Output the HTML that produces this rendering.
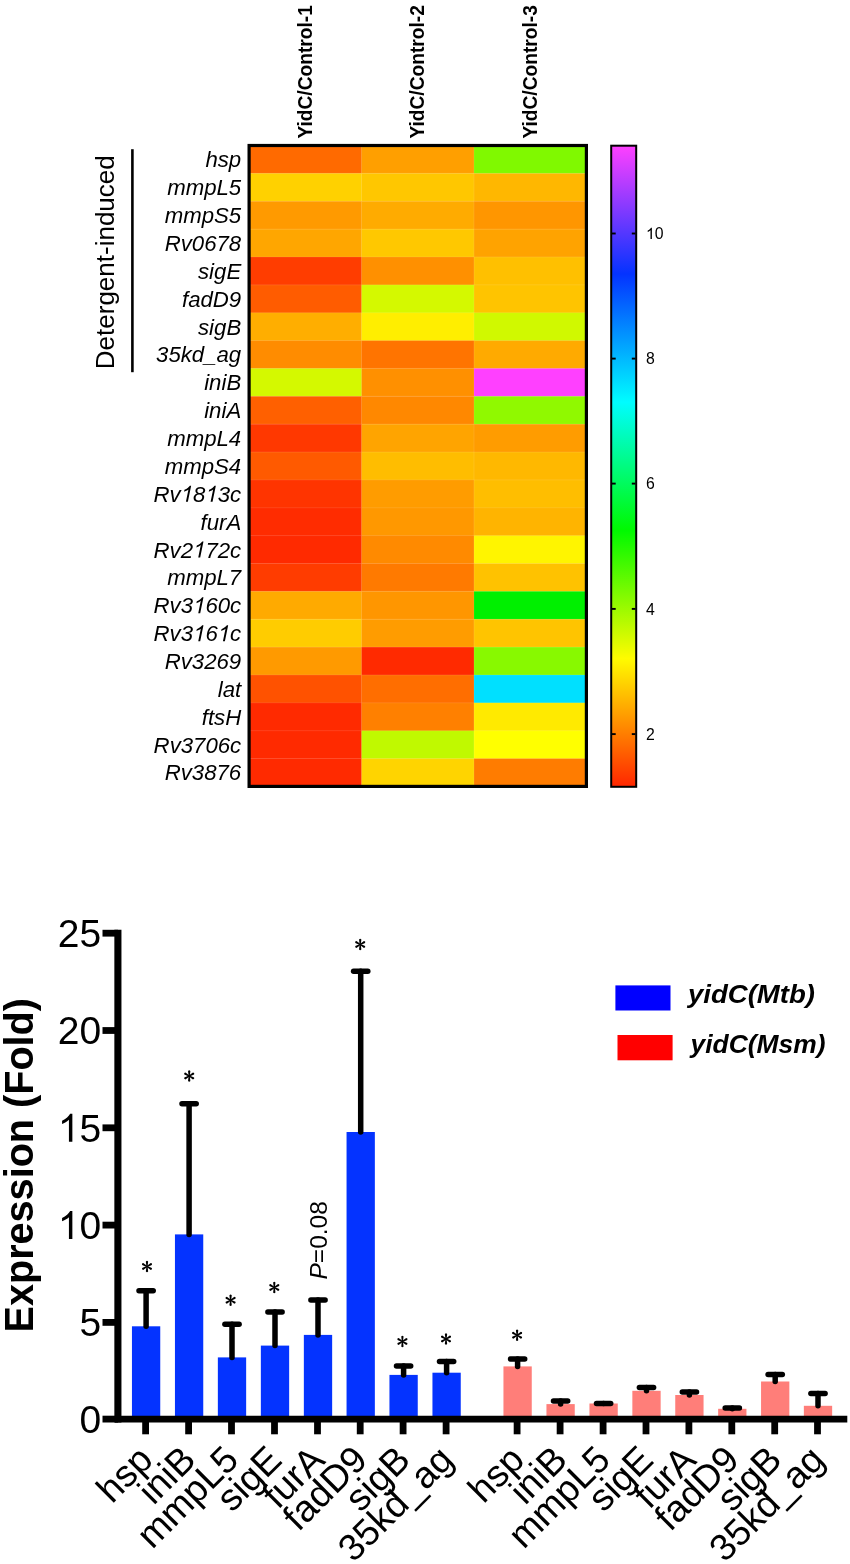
<!DOCTYPE html>
<html><head><meta charset="utf-8"><title>Figure</title><style>html,body{margin:0;padding:0;background:#fff}svg{display:block;will-change:transform}</style></head><body>
<svg width="850" height="1564" viewBox="0 0 850 1564">
<defs><linearGradient id="cb" x1="0" y1="0" x2="0" y2="1"><stop offset="0" stop-color="#ff40ff"/><stop offset="0.2" stop-color="#0433ff"/><stop offset="0.4" stop-color="#00fdff"/><stop offset="0.6" stop-color="#00f900"/><stop offset="0.8" stop-color="#fffb00"/><stop offset="1" stop-color="#ff2600"/></linearGradient><path id="pt" d="M-0.6,0 L-1.15,-5.0 Q0,-6.5 1.15,-5.0 L0.6,0 Z"/><g id="ast" fill="#000"><use href="#pt" transform="rotate(0)"/><use href="#pt" transform="rotate(60)"/><use href="#pt" transform="rotate(120)"/><use href="#pt" transform="rotate(180)"/><use href="#pt" transform="rotate(240)"/><use href="#pt" transform="rotate(300)"/></g></defs>
<rect width="850" height="1564" fill="#fff"/>
<rect x="249.10" y="145.50" width="112.73" height="28.17" fill="#ff6a00"/>
<rect x="361.53" y="145.50" width="112.73" height="28.17" fill="#ff9f00"/>
<rect x="473.97" y="145.50" width="112.73" height="28.17" fill="#80f900"/>
<rect x="249.10" y="173.37" width="112.73" height="28.17" fill="#ffd100"/>
<rect x="361.53" y="173.37" width="112.73" height="28.17" fill="#ffc700"/>
<rect x="473.97" y="173.37" width="112.73" height="28.17" fill="#ffb700"/>
<rect x="249.10" y="201.23" width="112.73" height="28.17" fill="#ff9a00"/>
<rect x="361.53" y="201.23" width="112.73" height="28.17" fill="#ffab00"/>
<rect x="473.97" y="201.23" width="112.73" height="28.17" fill="#ff9600"/>
<rect x="249.10" y="229.10" width="112.73" height="28.17" fill="#ffa600"/>
<rect x="361.53" y="229.10" width="112.73" height="28.17" fill="#ffc800"/>
<rect x="473.97" y="229.10" width="112.73" height="28.17" fill="#ffa300"/>
<rect x="249.10" y="256.96" width="112.73" height="28.17" fill="#ff3d00"/>
<rect x="361.53" y="256.96" width="112.73" height="28.17" fill="#ff9000"/>
<rect x="473.97" y="256.96" width="112.73" height="28.17" fill="#ffc000"/>
<rect x="249.10" y="284.83" width="112.73" height="28.17" fill="#ff5c00"/>
<rect x="361.53" y="284.83" width="112.73" height="28.17" fill="#d4f900"/>
<rect x="473.97" y="284.83" width="112.73" height="28.17" fill="#ffc400"/>
<rect x="249.10" y="312.69" width="112.73" height="28.17" fill="#ffae00"/>
<rect x="361.53" y="312.69" width="112.73" height="28.17" fill="#ffee00"/>
<rect x="473.97" y="312.69" width="112.73" height="28.17" fill="#d0f900"/>
<rect x="249.10" y="340.56" width="112.73" height="28.17" fill="#ff8c00"/>
<rect x="361.53" y="340.56" width="112.73" height="28.17" fill="#ff7400"/>
<rect x="473.97" y="340.56" width="112.73" height="28.17" fill="#ffaa00"/>
<rect x="249.10" y="368.42" width="112.73" height="28.17" fill="#d4f900"/>
<rect x="361.53" y="368.42" width="112.73" height="28.17" fill="#ff9000"/>
<rect x="473.97" y="368.42" width="112.73" height="28.17" fill="#ff40ff"/>
<rect x="249.10" y="396.29" width="112.73" height="28.17" fill="#ff6000"/>
<rect x="361.53" y="396.29" width="112.73" height="28.17" fill="#ff8800"/>
<rect x="473.97" y="396.29" width="112.73" height="28.17" fill="#90f900"/>
<rect x="249.10" y="424.15" width="112.73" height="28.17" fill="#ff3800"/>
<rect x="361.53" y="424.15" width="112.73" height="28.17" fill="#ffa400"/>
<rect x="473.97" y="424.15" width="112.73" height="28.17" fill="#ff9c00"/>
<rect x="249.10" y="452.02" width="112.73" height="28.17" fill="#ff5a00"/>
<rect x="361.53" y="452.02" width="112.73" height="28.17" fill="#ffbd00"/>
<rect x="473.97" y="452.02" width="112.73" height="28.17" fill="#ffb800"/>
<rect x="249.10" y="479.88" width="112.73" height="28.17" fill="#ff3400"/>
<rect x="361.53" y="479.88" width="112.73" height="28.17" fill="#ff9c00"/>
<rect x="473.97" y="479.88" width="112.73" height="28.17" fill="#ffbe00"/>
<rect x="249.10" y="507.75" width="112.73" height="28.17" fill="#ff2c00"/>
<rect x="361.53" y="507.75" width="112.73" height="28.17" fill="#ff9800"/>
<rect x="473.97" y="507.75" width="112.73" height="28.17" fill="#ffb400"/>
<rect x="249.10" y="535.61" width="112.73" height="28.17" fill="#ff2a00"/>
<rect x="361.53" y="535.61" width="112.73" height="28.17" fill="#ff8a00"/>
<rect x="473.97" y="535.61" width="112.73" height="28.17" fill="#fff500"/>
<rect x="249.10" y="563.48" width="112.73" height="28.17" fill="#ff3c00"/>
<rect x="361.53" y="563.48" width="112.73" height="28.17" fill="#ff7a00"/>
<rect x="473.97" y="563.48" width="112.73" height="28.17" fill="#ffc200"/>
<rect x="249.10" y="591.34" width="112.73" height="28.17" fill="#ffaa00"/>
<rect x="361.53" y="591.34" width="112.73" height="28.17" fill="#ff9600"/>
<rect x="473.97" y="591.34" width="112.73" height="28.17" fill="#00f000"/>
<rect x="249.10" y="619.21" width="112.73" height="28.17" fill="#ffcc00"/>
<rect x="361.53" y="619.21" width="112.73" height="28.17" fill="#ff9c00"/>
<rect x="473.97" y="619.21" width="112.73" height="28.17" fill="#ffc400"/>
<rect x="249.10" y="647.07" width="112.73" height="28.17" fill="#ff9a00"/>
<rect x="361.53" y="647.07" width="112.73" height="28.17" fill="#ff2a00"/>
<rect x="473.97" y="647.07" width="112.73" height="28.17" fill="#88f900"/>
<rect x="249.10" y="674.94" width="112.73" height="28.17" fill="#ff5200"/>
<rect x="361.53" y="674.94" width="112.73" height="28.17" fill="#ff6e00"/>
<rect x="473.97" y="674.94" width="112.73" height="28.17" fill="#00e0ff"/>
<rect x="249.10" y="702.80" width="112.73" height="28.17" fill="#ff2a00"/>
<rect x="361.53" y="702.80" width="112.73" height="28.17" fill="#ff8000"/>
<rect x="473.97" y="702.80" width="112.73" height="28.17" fill="#ffea00"/>
<rect x="249.10" y="730.67" width="112.73" height="28.17" fill="#ff2a00"/>
<rect x="361.53" y="730.67" width="112.73" height="28.17" fill="#c0f900"/>
<rect x="473.97" y="730.67" width="112.73" height="28.17" fill="#ffff00"/>
<rect x="249.10" y="758.53" width="112.73" height="28.17" fill="#ff2a00"/>
<rect x="361.53" y="758.53" width="112.73" height="28.17" fill="#ffd400"/>
<rect x="473.97" y="758.53" width="112.73" height="28.17" fill="#ff7c00"/>
<line x1="249.1" y1="173.37" x2="586.4" y2="173.37" stroke="#fff" stroke-opacity="0.13" stroke-width="0.8"/>
<line x1="249.1" y1="201.23" x2="586.4" y2="201.23" stroke="#fff" stroke-opacity="0.13" stroke-width="0.8"/>
<line x1="249.1" y1="229.10" x2="586.4" y2="229.10" stroke="#fff" stroke-opacity="0.13" stroke-width="0.8"/>
<line x1="249.1" y1="256.96" x2="586.4" y2="256.96" stroke="#fff" stroke-opacity="0.13" stroke-width="0.8"/>
<line x1="249.1" y1="284.83" x2="586.4" y2="284.83" stroke="#fff" stroke-opacity="0.13" stroke-width="0.8"/>
<line x1="249.1" y1="312.69" x2="586.4" y2="312.69" stroke="#fff" stroke-opacity="0.13" stroke-width="0.8"/>
<line x1="249.1" y1="340.56" x2="586.4" y2="340.56" stroke="#fff" stroke-opacity="0.13" stroke-width="0.8"/>
<line x1="249.1" y1="368.42" x2="586.4" y2="368.42" stroke="#fff" stroke-opacity="0.13" stroke-width="0.8"/>
<line x1="249.1" y1="396.29" x2="586.4" y2="396.29" stroke="#fff" stroke-opacity="0.13" stroke-width="0.8"/>
<line x1="249.1" y1="424.15" x2="586.4" y2="424.15" stroke="#fff" stroke-opacity="0.13" stroke-width="0.8"/>
<line x1="249.1" y1="452.02" x2="586.4" y2="452.02" stroke="#fff" stroke-opacity="0.13" stroke-width="0.8"/>
<line x1="249.1" y1="479.88" x2="586.4" y2="479.88" stroke="#fff" stroke-opacity="0.13" stroke-width="0.8"/>
<line x1="249.1" y1="507.75" x2="586.4" y2="507.75" stroke="#fff" stroke-opacity="0.13" stroke-width="0.8"/>
<line x1="249.1" y1="535.61" x2="586.4" y2="535.61" stroke="#fff" stroke-opacity="0.13" stroke-width="0.8"/>
<line x1="249.1" y1="563.48" x2="586.4" y2="563.48" stroke="#fff" stroke-opacity="0.13" stroke-width="0.8"/>
<line x1="249.1" y1="591.34" x2="586.4" y2="591.34" stroke="#fff" stroke-opacity="0.13" stroke-width="0.8"/>
<line x1="249.1" y1="619.21" x2="586.4" y2="619.21" stroke="#fff" stroke-opacity="0.13" stroke-width="0.8"/>
<line x1="249.1" y1="647.07" x2="586.4" y2="647.07" stroke="#fff" stroke-opacity="0.13" stroke-width="0.8"/>
<line x1="249.1" y1="674.94" x2="586.4" y2="674.94" stroke="#fff" stroke-opacity="0.13" stroke-width="0.8"/>
<line x1="249.1" y1="702.80" x2="586.4" y2="702.80" stroke="#fff" stroke-opacity="0.13" stroke-width="0.8"/>
<line x1="249.1" y1="730.67" x2="586.4" y2="730.67" stroke="#fff" stroke-opacity="0.13" stroke-width="0.8"/>
<line x1="249.1" y1="758.53" x2="586.4" y2="758.53" stroke="#fff" stroke-opacity="0.13" stroke-width="0.8"/>
<line x1="361.53" y1="145.5" x2="361.53" y2="786.4" stroke="#fff" stroke-opacity="0.13" stroke-width="0.8"/>
<line x1="473.97" y1="145.5" x2="473.97" y2="786.4" stroke="#fff" stroke-opacity="0.13" stroke-width="0.8"/>
<rect x="249.1" y="145.5" width="337.30" height="640.90" fill="none" stroke="#000" stroke-width="3.2"/>
<text x="241.2" y="167.43" font-family="Liberation Sans, sans-serif" font-size="22.2" font-style="italic" text-anchor="end">hsp</text>
<text x="241.2" y="195.30" font-family="Liberation Sans, sans-serif" font-size="22.2" font-style="italic" text-anchor="end">mmpL5</text>
<text x="241.2" y="223.16" font-family="Liberation Sans, sans-serif" font-size="22.2" font-style="italic" text-anchor="end">mmpS5</text>
<text x="241.2" y="251.03" font-family="Liberation Sans, sans-serif" font-size="22.2" font-style="italic" text-anchor="end">Rv0678</text>
<text x="241.2" y="278.89" font-family="Liberation Sans, sans-serif" font-size="22.2" font-style="italic" text-anchor="end">sigE</text>
<text x="241.2" y="306.76" font-family="Liberation Sans, sans-serif" font-size="22.2" font-style="italic" text-anchor="end">fadD9</text>
<text x="241.2" y="334.62" font-family="Liberation Sans, sans-serif" font-size="22.2" font-style="italic" text-anchor="end">sigB</text>
<text x="241.2" y="362.49" font-family="Liberation Sans, sans-serif" font-size="22.2" font-style="italic" text-anchor="end">35kd_ag</text>
<text x="241.2" y="390.35" font-family="Liberation Sans, sans-serif" font-size="22.2" font-style="italic" text-anchor="end">iniB</text>
<text x="241.2" y="418.22" font-family="Liberation Sans, sans-serif" font-size="22.2" font-style="italic" text-anchor="end">iniA</text>
<text x="241.2" y="446.08" font-family="Liberation Sans, sans-serif" font-size="22.2" font-style="italic" text-anchor="end">mmpL4</text>
<text x="241.2" y="473.95" font-family="Liberation Sans, sans-serif" font-size="22.2" font-style="italic" text-anchor="end">mmpS4</text>
<path transform="translate(179.59,501.82) skewX(-11.6) scale(0.01084,-0.01084)" d="M763 0H583V1147Q518 1085 412.5 1023Q307 961 223 930V1104Q374 1175 487 1276Q600 1377 647 1472H763Z"/><path transform="translate(204.28,501.82) skewX(-11.6) scale(0.01084,-0.01084)" d="M763 0H583V1147Q518 1085 412.5 1023Q307 961 223 930V1104Q374 1175 487 1276Q600 1377 647 1472H763Z"/><text x="180.73" y="501.82" font-family="Liberation Sans, sans-serif" font-size="22.2" font-style="italic" text-anchor="end">Rv</text><text x="193.07" y="501.82" font-family="Liberation Sans, sans-serif" font-size="22.2" font-style="italic" style="font-kerning:none">8</text><text x="217.76" y="501.82" font-family="Liberation Sans, sans-serif" font-size="22.2" font-style="italic" style="font-kerning:none">3c</text>
<text x="241.2" y="529.68" font-family="Liberation Sans, sans-serif" font-size="22.2" font-style="italic" text-anchor="end">furA</text>
<path transform="translate(191.93,557.55) skewX(-11.6) scale(0.01084,-0.01084)" d="M763 0H583V1147Q518 1085 412.5 1023Q307 961 223 930V1104Q374 1175 487 1276Q600 1377 647 1472H763Z"/><text x="193.07" y="557.55" font-family="Liberation Sans, sans-serif" font-size="22.2" font-style="italic" text-anchor="end">Rv2</text><text x="205.41" y="557.55" font-family="Liberation Sans, sans-serif" font-size="22.2" font-style="italic" style="font-kerning:none">72c</text>
<text x="241.2" y="585.41" font-family="Liberation Sans, sans-serif" font-size="22.2" font-style="italic" text-anchor="end">mmpL7</text>
<path transform="translate(191.93,613.28) skewX(-11.6) scale(0.01084,-0.01084)" d="M763 0H583V1147Q518 1085 412.5 1023Q307 961 223 930V1104Q374 1175 487 1276Q600 1377 647 1472H763Z"/><text x="193.07" y="613.28" font-family="Liberation Sans, sans-serif" font-size="22.2" font-style="italic" text-anchor="end">Rv3</text><text x="205.41" y="613.28" font-family="Liberation Sans, sans-serif" font-size="22.2" font-style="italic" style="font-kerning:none">60c</text>
<path transform="translate(191.93,641.14) skewX(-11.6) scale(0.01084,-0.01084)" d="M763 0H583V1147Q518 1085 412.5 1023Q307 961 223 930V1104Q374 1175 487 1276Q600 1377 647 1472H763Z"/><path transform="translate(216.62,641.14) skewX(-11.6) scale(0.01084,-0.01084)" d="M763 0H583V1147Q518 1085 412.5 1023Q307 961 223 930V1104Q374 1175 487 1276Q600 1377 647 1472H763Z"/><text x="193.07" y="641.14" font-family="Liberation Sans, sans-serif" font-size="22.2" font-style="italic" text-anchor="end">Rv3</text><text x="205.41" y="641.14" font-family="Liberation Sans, sans-serif" font-size="22.2" font-style="italic" style="font-kerning:none">6</text><text x="230.10" y="641.14" font-family="Liberation Sans, sans-serif" font-size="22.2" font-style="italic" style="font-kerning:none">c</text>
<text x="241.2" y="669.01" font-family="Liberation Sans, sans-serif" font-size="22.2" font-style="italic" text-anchor="end">Rv3269</text>
<text x="241.2" y="696.87" font-family="Liberation Sans, sans-serif" font-size="22.2" font-style="italic" text-anchor="end">lat</text>
<text x="241.2" y="724.74" font-family="Liberation Sans, sans-serif" font-size="22.2" font-style="italic" text-anchor="end">ftsH</text>
<text x="241.2" y="752.60" font-family="Liberation Sans, sans-serif" font-size="22.2" font-style="italic" text-anchor="end">Rv3706c</text>
<text x="241.2" y="780.47" font-family="Liberation Sans, sans-serif" font-size="22.2" font-style="italic" text-anchor="end">Rv3876</text>
<text transform="translate(312.00,138.6) rotate(-90)" font-family="Liberation Sans, sans-serif" font-size="20" font-weight="bold" textLength="133.4" lengthAdjust="spacingAndGlyphs">YidC/Control-1</text>
<text transform="translate(424.43,138.6) rotate(-90)" font-family="Liberation Sans, sans-serif" font-size="20" font-weight="bold" textLength="133.4" lengthAdjust="spacingAndGlyphs">YidC/Control-2</text>
<text transform="translate(536.87,138.6) rotate(-90)" font-family="Liberation Sans, sans-serif" font-size="20" font-weight="bold" textLength="133.4" lengthAdjust="spacingAndGlyphs">YidC/Control-3</text>
<text transform="translate(114.1,369.2) rotate(-90)" font-family="Liberation Sans, sans-serif" font-size="26">Detergent-induced</text>
<line x1="132.4" y1="149.2" x2="132.4" y2="372.2" stroke="#000" stroke-width="2.6"/>
<rect x="611.2" y="145.7" width="25" height="641.1" fill="url(#cb)" stroke="#000" stroke-width="2"/>
<line x1="612" y1="233.5" x2="615.7" y2="233.5" stroke="#000" stroke-width="1.9"/>
<line x1="631.8" y1="233.5" x2="635.5" y2="233.5" stroke="#000" stroke-width="1.9"/>
<path transform="translate(646.00,239.10) scale(0.00771,-0.00771)" d="M763 0H583V1147Q518 1085 412.5 1023Q307 961 223 930V1104Q374 1175 487 1276Q600 1377 647 1472H763Z"/><text x="654.78" y="239.10" font-family="Liberation Sans, sans-serif" font-size="15.8" style="font-kerning:none">0</text>
<line x1="612" y1="358.6" x2="615.7" y2="358.6" stroke="#000" stroke-width="1.9"/>
<line x1="631.8" y1="358.6" x2="635.5" y2="358.6" stroke="#000" stroke-width="1.9"/>
<text x="646" y="364.2" font-family="Liberation Sans, sans-serif" font-size="15.8">8</text>
<line x1="612" y1="483.6" x2="615.7" y2="483.6" stroke="#000" stroke-width="1.9"/>
<line x1="631.8" y1="483.6" x2="635.5" y2="483.6" stroke="#000" stroke-width="1.9"/>
<text x="646" y="489.2" font-family="Liberation Sans, sans-serif" font-size="15.8">6</text>
<line x1="612" y1="608.9" x2="615.7" y2="608.9" stroke="#000" stroke-width="1.9"/>
<line x1="631.8" y1="608.9" x2="635.5" y2="608.9" stroke="#000" stroke-width="1.9"/>
<text x="646" y="614.5" font-family="Liberation Sans, sans-serif" font-size="15.8">4</text>
<line x1="612" y1="734.1" x2="615.7" y2="734.1" stroke="#000" stroke-width="1.9"/>
<line x1="631.8" y1="734.1" x2="635.5" y2="734.1" stroke="#000" stroke-width="1.9"/>
<text x="646" y="739.7" font-family="Liberation Sans, sans-serif" font-size="15.8">2</text>
<rect x="131.95" y="1326.3" width="28.3" height="92.8" fill="#0433ff"/>
<rect x="174.95" y="1234.4" width="28.3" height="184.7" fill="#0433ff"/>
<rect x="217.85" y="1357.4" width="28.3" height="61.7" fill="#0433ff"/>
<rect x="260.85" y="1345.6" width="28.3" height="73.5" fill="#0433ff"/>
<rect x="303.85" y="1334.9" width="28.3" height="84.2" fill="#0433ff"/>
<rect x="346.55" y="1132.0" width="28.3" height="287.1" fill="#0433ff"/>
<rect x="389.45" y="1374.9" width="28.3" height="44.2" fill="#0433ff"/>
<rect x="432.45" y="1372.7" width="28.3" height="46.4" fill="#0433ff"/>
<rect x="503.45" y="1366.4" width="28.3" height="52.7" fill="#ff7e79"/>
<rect x="546.45" y="1404.1" width="28.3" height="15.0" fill="#ff7e79"/>
<rect x="589.45" y="1403.5" width="28.3" height="15.6" fill="#ff7e79"/>
<rect x="632.35" y="1390.8" width="28.3" height="28.3" fill="#ff7e79"/>
<rect x="675.25" y="1395.0" width="28.3" height="24.1" fill="#ff7e79"/>
<rect x="718.15" y="1408.8" width="28.3" height="10.3" fill="#ff7e79"/>
<rect x="761.05" y="1381.5" width="28.3" height="37.6" fill="#ff7e79"/>
<rect x="803.85" y="1405.8" width="28.3" height="13.3" fill="#ff7e79"/>
<g stroke="#000" stroke-width="5.5" stroke-linecap="round"><line x1="146.1" y1="1290.7" x2="146.1" y2="1326.3"/><line x1="139.0" y1="1290.7" x2="153.2" y2="1290.7"/></g>
<use href="#ast" x="147.0" y="1266.4"/>
<g stroke="#000" stroke-width="5.5" stroke-linecap="round"><line x1="189.1" y1="1103.7" x2="189.1" y2="1234.4"/><line x1="182.0" y1="1103.7" x2="196.2" y2="1103.7"/></g>
<use href="#ast" x="189.2" y="1075.9"/>
<g stroke="#000" stroke-width="5.5" stroke-linecap="round"><line x1="232.0" y1="1324.2" x2="232.0" y2="1357.4"/><line x1="224.9" y1="1324.2" x2="239.1" y2="1324.2"/></g>
<use href="#ast" x="230.6" y="1300.2"/>
<g stroke="#000" stroke-width="5.5" stroke-linecap="round"><line x1="275.0" y1="1311.9" x2="275.0" y2="1345.6"/><line x1="267.9" y1="1311.9" x2="282.1" y2="1311.9"/></g>
<use href="#ast" x="274.3" y="1287.5"/>
<g stroke="#000" stroke-width="5.5" stroke-linecap="round"><line x1="318.0" y1="1300.0" x2="318.0" y2="1334.9"/><line x1="310.9" y1="1300.0" x2="325.1" y2="1300.0"/></g>
<g stroke="#000" stroke-width="5.5" stroke-linecap="round"><line x1="360.7" y1="971.3" x2="360.7" y2="1132.0"/><line x1="353.59999999999997" y1="971.3" x2="367.8" y2="971.3"/></g>
<use href="#ast" x="360.2" y="944.6"/>
<g stroke="#000" stroke-width="5.5" stroke-linecap="round"><line x1="403.6" y1="1366.0" x2="403.6" y2="1374.9"/><line x1="396.5" y1="1366.0" x2="410.70000000000005" y2="1366.0"/></g>
<use href="#ast" x="402.4" y="1341.4"/>
<g stroke="#000" stroke-width="5.5" stroke-linecap="round"><line x1="446.6" y1="1361.5" x2="446.6" y2="1372.7"/><line x1="439.5" y1="1361.5" x2="453.70000000000005" y2="1361.5"/></g>
<use href="#ast" x="446.0" y="1339.1"/>
<g stroke="#000" stroke-width="5.5" stroke-linecap="round"><line x1="517.6" y1="1359.0" x2="517.6" y2="1366.4"/><line x1="510.5" y1="1359.0" x2="524.7" y2="1359.0"/></g>
<use href="#ast" x="517.1" y="1335.3"/>
<g stroke="#000" stroke-width="5.5" stroke-linecap="round"><line x1="560.6" y1="1400.9" x2="560.6" y2="1404.1"/><line x1="553.5" y1="1400.9" x2="567.7" y2="1400.9"/></g>
<g stroke="#000" stroke-width="5.5" stroke-linecap="round"><line x1="603.6" y1="1403.5" x2="603.6" y2="1403.5"/><line x1="596.5" y1="1403.5" x2="610.7" y2="1403.5"/></g>
<g stroke="#000" stroke-width="5.5" stroke-linecap="round"><line x1="646.5" y1="1387.6" x2="646.5" y2="1390.8"/><line x1="639.4" y1="1387.6" x2="653.6" y2="1387.6"/></g>
<g stroke="#000" stroke-width="5.5" stroke-linecap="round"><line x1="689.4" y1="1392.0" x2="689.4" y2="1395.0"/><line x1="682.3" y1="1392.0" x2="696.5" y2="1392.0"/></g>
<g stroke="#000" stroke-width="5.5" stroke-linecap="round"><line x1="732.3" y1="1407.9" x2="732.3" y2="1408.8"/><line x1="725.1999999999999" y1="1407.9" x2="739.4" y2="1407.9"/></g>
<g stroke="#000" stroke-width="5.5" stroke-linecap="round"><line x1="775.2" y1="1374.5" x2="775.2" y2="1381.5"/><line x1="768.1" y1="1374.5" x2="782.3000000000001" y2="1374.5"/></g>
<g stroke="#000" stroke-width="5.5" stroke-linecap="round"><line x1="818.0" y1="1393.5" x2="818.0" y2="1405.8"/><line x1="810.9" y1="1393.5" x2="825.1" y2="1393.5"/></g>
<line x1="117.9" y1="929.7" x2="117.9" y2="1422.4" stroke="#000" stroke-width="7.1"/>
<line x1="114.9" y1="1419.1" x2="847.3" y2="1419.1" stroke="#000" stroke-width="6.6"/>
<line x1="102.5" y1="1419.1" x2="118" y2="1419.1" stroke="#000" stroke-width="6.8"/>
<text x="101.2" y="1433.0" font-family="Liberation Sans, sans-serif" font-size="39" text-anchor="end">0</text>
<line x1="102.5" y1="1322.4" x2="118" y2="1322.4" stroke="#000" stroke-width="6.8"/>
<text x="101.2" y="1336.3" font-family="Liberation Sans, sans-serif" font-size="39" text-anchor="end">5</text>
<line x1="102.5" y1="1225.1" x2="118" y2="1225.1" stroke="#000" stroke-width="6.8"/>
<path transform="translate(57.83,1239.00) scale(0.01904,-0.01904)" d="M763 0H583V1147Q518 1085 412.5 1023Q307 961 223 930V1104Q374 1175 487 1276Q600 1377 647 1472H763Z"/><text x="79.52" y="1239.00" font-family="Liberation Sans, sans-serif" font-size="39" style="font-kerning:none">0</text>
<line x1="102.5" y1="1127.8" x2="118" y2="1127.8" stroke="#000" stroke-width="6.8"/>
<path transform="translate(57.83,1141.70) scale(0.01904,-0.01904)" d="M763 0H583V1147Q518 1085 412.5 1023Q307 961 223 930V1104Q374 1175 487 1276Q600 1377 647 1472H763Z"/><text x="79.52" y="1141.70" font-family="Liberation Sans, sans-serif" font-size="39" style="font-kerning:none">5</text>
<line x1="102.5" y1="1030.5" x2="118" y2="1030.5" stroke="#000" stroke-width="6.8"/>
<text x="101.2" y="1044.4" font-family="Liberation Sans, sans-serif" font-size="39" text-anchor="end">20</text>
<line x1="102.5" y1="933.2" x2="118" y2="933.2" stroke="#000" stroke-width="6.8"/>
<text x="101.2" y="947.1" font-family="Liberation Sans, sans-serif" font-size="39" text-anchor="end">25</text>
<line x1="145.6" y1="1420" x2="145.6" y2="1434.3" stroke="#000" stroke-width="6.8"/>
<text transform="translate(154.7,1461.7) rotate(-45)" font-family="Liberation Sans, sans-serif" font-size="37.5" text-anchor="end">hsp</text>
<line x1="188.6" y1="1420" x2="188.6" y2="1434.3" stroke="#000" stroke-width="6.8"/>
<text transform="translate(197.7,1461.7) rotate(-45)" font-family="Liberation Sans, sans-serif" font-size="37.5" text-anchor="end">iniB</text>
<line x1="231.5" y1="1420" x2="231.5" y2="1434.3" stroke="#000" stroke-width="6.8"/>
<text transform="translate(240.6,1461.7) rotate(-45)" font-family="Liberation Sans, sans-serif" font-size="37.5" text-anchor="end">mmpL5</text>
<line x1="274.5" y1="1420" x2="274.5" y2="1434.3" stroke="#000" stroke-width="6.8"/>
<text transform="translate(283.6,1461.7) rotate(-45)" font-family="Liberation Sans, sans-serif" font-size="37.5" text-anchor="end">sigE</text>
<line x1="317.5" y1="1420" x2="317.5" y2="1434.3" stroke="#000" stroke-width="6.8"/>
<text transform="translate(326.6,1461.7) rotate(-45)" font-family="Liberation Sans, sans-serif" font-size="37.5" text-anchor="end">furA</text>
<line x1="360.2" y1="1420" x2="360.2" y2="1434.3" stroke="#000" stroke-width="6.8"/>
<text transform="translate(369.3,1461.7) rotate(-45)" font-family="Liberation Sans, sans-serif" font-size="37.5" text-anchor="end">fadD9</text>
<line x1="403.1" y1="1420" x2="403.1" y2="1434.3" stroke="#000" stroke-width="6.8"/>
<text transform="translate(412.2,1461.7) rotate(-45)" font-family="Liberation Sans, sans-serif" font-size="37.5" text-anchor="end">sigB</text>
<line x1="446.1" y1="1420" x2="446.1" y2="1434.3" stroke="#000" stroke-width="6.8"/>
<text transform="translate(455.2,1461.7) rotate(-45)" font-family="Liberation Sans, sans-serif" font-size="37.5" text-anchor="end">35kd_ag</text>
<line x1="517.1" y1="1420" x2="517.1" y2="1434.3" stroke="#000" stroke-width="6.8"/>
<text transform="translate(526.2,1461.7) rotate(-45)" font-family="Liberation Sans, sans-serif" font-size="37.5" text-anchor="end">hsp</text>
<line x1="560.1" y1="1420" x2="560.1" y2="1434.3" stroke="#000" stroke-width="6.8"/>
<text transform="translate(569.2,1461.7) rotate(-45)" font-family="Liberation Sans, sans-serif" font-size="37.5" text-anchor="end">iniB</text>
<line x1="603.1" y1="1420" x2="603.1" y2="1434.3" stroke="#000" stroke-width="6.8"/>
<text transform="translate(612.2,1461.7) rotate(-45)" font-family="Liberation Sans, sans-serif" font-size="37.5" text-anchor="end">mmpL5</text>
<line x1="646.0" y1="1420" x2="646.0" y2="1434.3" stroke="#000" stroke-width="6.8"/>
<text transform="translate(655.1,1461.7) rotate(-45)" font-family="Liberation Sans, sans-serif" font-size="37.5" text-anchor="end">sigE</text>
<line x1="688.9" y1="1420" x2="688.9" y2="1434.3" stroke="#000" stroke-width="6.8"/>
<text transform="translate(698.0,1461.7) rotate(-45)" font-family="Liberation Sans, sans-serif" font-size="37.5" text-anchor="end">furA</text>
<line x1="731.8" y1="1420" x2="731.8" y2="1434.3" stroke="#000" stroke-width="6.8"/>
<text transform="translate(740.9,1461.7) rotate(-45)" font-family="Liberation Sans, sans-serif" font-size="37.5" text-anchor="end">fadD9</text>
<line x1="774.7" y1="1420" x2="774.7" y2="1434.3" stroke="#000" stroke-width="6.8"/>
<text transform="translate(783.8,1461.7) rotate(-45)" font-family="Liberation Sans, sans-serif" font-size="37.5" text-anchor="end">sigB</text>
<line x1="817.5" y1="1420" x2="817.5" y2="1434.3" stroke="#000" stroke-width="6.8"/>
<text transform="translate(826.6,1461.7) rotate(-45)" font-family="Liberation Sans, sans-serif" font-size="37.5" text-anchor="end">35kd_ag</text>
<text transform="translate(33.0,1332.5) rotate(-90)" font-family="Liberation Sans, sans-serif" font-size="41" font-weight="bold" textLength="334.5" lengthAdjust="spacingAndGlyphs">Expression (Fold)</text>
<text transform="translate(327.0,1279.5) rotate(-90)" font-family="Liberation Sans, sans-serif" font-size="24.5"><tspan font-style="italic">P</tspan>=0.08</text>
<rect x="615.4" y="985.4" width="55.1" height="25.1" fill="#0000ff"/>
<rect x="617.5" y="1035" width="55.1" height="25.3" fill="#ff0000"/>
<text x="688" y="1003" font-family="Liberation Sans, sans-serif" font-size="26.3" font-weight="bold" font-style="italic" textLength="127" lengthAdjust="spacingAndGlyphs">yidC(Mtb)</text>
<text x="690.5" y="1053.3" font-family="Liberation Sans, sans-serif" font-size="26.3" font-weight="bold" font-style="italic" textLength="135" lengthAdjust="spacingAndGlyphs">yidC(Msm)</text>
</svg>
</body></html>
